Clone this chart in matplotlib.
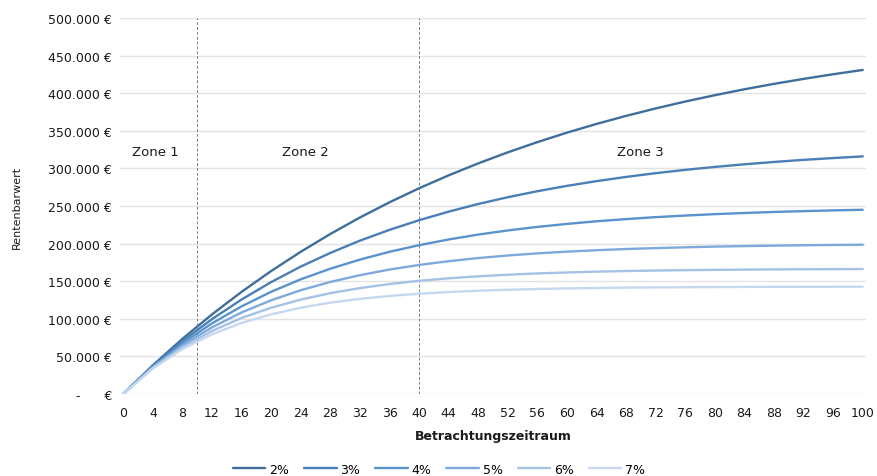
import matplotlib
matplotlib.use("Agg")
import matplotlib.pyplot as plt
from matplotlib.ticker import FuncFormatter, MultipleLocator

# Betrachtungszeitraum in Jahren
years = [0, 4, 8, 12, 16, 20, 24, 28, 32, 36, 40, 44, 48, 52, 56, 60,
         64, 68, 72, 76, 80, 84, 88, 92, 96, 100]

# Rentenbarwert in Tausend Euro je Zinssatz
pv_2 = [0, 38.1, 73.3, 105.8, 135.8, 163.5, 189.1, 212.8, 234.7, 254.9, 273.6,
        290.8, 306.7, 321.4, 335.0, 347.6, 359.2, 369.9, 379.8, 389.0, 397.4,
        405.3, 412.5, 419.1, 425.3, 431.0]
pv_3 = [0, 37.2, 70.2, 99.5, 125.6, 148.8, 169.4, 187.6, 203.9, 218.3, 231.1,
        242.5, 252.7, 261.7, 269.7, 276.8, 283.1, 288.7, 293.7, 298.1, 302.0,
        305.5, 308.6, 311.4, 313.8, 316.0]
pv_4 = [0, 36.3, 67.3, 93.9, 116.5, 135.9, 152.5, 166.6, 178.7, 189.1, 197.9,
        205.5, 212.0, 217.5, 222.2, 226.2, 229.7, 232.6, 235.2, 237.3, 239.2,
        240.7, 242.1, 243.2, 244.2, 245.0]
pv_5 = [0, 35.5, 64.6, 88.6, 108.4, 124.6, 138.0, 149.0, 158.0, 165.5, 171.6,
        176.6, 180.8, 184.2, 187.0, 189.3, 191.2, 192.8, 194.0, 195.1, 196.0,
        196.7, 197.3, 197.8, 198.2, 198.5]
pv_6 = [0, 34.7, 62.1, 83.8, 101.1, 114.7, 125.5, 134.1, 140.8, 146.2, 150.5,
        153.8, 156.5, 158.6, 160.3, 161.6, 162.7, 163.5, 164.2, 164.7, 165.1,
        165.4, 165.7, 165.9, 166.0, 166.2]
pv_7 = [0, 33.9, 59.7, 79.4, 94.5, 105.9, 114.7, 121.4, 126.5, 130.4, 133.3,
        135.6, 137.3, 138.6, 139.6, 140.4, 141.0, 141.4, 141.8, 142.0, 142.2,
        142.4, 142.5, 142.6, 142.6, 142.7]

series_labels = ["2%", "3%", "4%", "5%", "6%", "7%"]
series_values = [pv_2, pv_3, pv_4, pv_5, pv_6, pv_7]
colors = ["#3F6E9A", "#4A7EB6", "#5A93CC", "#7FA9DB", "#A5C2E6", "#C6D8EF"]

zone_bounds = [10, 40]
zone_labels = ["Zone 1", "Zone 2", "Zone 3"]
zone_label_x = [4.3, 24.6, 69.9]
zone_label_y = 323000

plt.rcParams["font.family"] = ["DejaVu Sans"]

fig = plt.figure(figsize=(8.78, 4.77), dpi=100)
ax = fig.add_axes([0.137, 0.172, 0.849, 0.788])

for label, vals, c in zip(series_labels, series_values, colors):
    ax.plot(years, [v * 1000 for v in vals], color=c, lw=1.7, label=label,
            solid_capstyle="round", zorder=3)

for xb in zone_bounds:
    ax.axvline(xb, color="#7F7F7F", lw=0.7, ls=(0, (3, 2)), zorder=2)

for txt, xz in zip(zone_labels, zone_label_x):
    ax.text(xz, zone_label_y, txt, ha="center", va="center", fontsize=9.5,
            color="#1A1A1A")

ax.set_xlim(-0.4, 100.4)
ax.set_ylim(0, 500000)
ax.xaxis.set_major_locator(MultipleLocator(4))
ax.yaxis.set_major_locator(MultipleLocator(50000))


def euro(v, pos):
    if v == 0:
        return "-      €"
    return f"{int(v):,} €".replace(",", ".")


ax.yaxis.set_major_formatter(FuncFormatter(euro))
ax.grid(axis="y", color="#E3E3E3", lw=1.0, zorder=0)
ax.set_axisbelow(True)
for s in ax.spines.values():
    s.set_visible(False)
ax.tick_params(axis="both", length=0, labelsize=9, colors="#1A1A1A")
ax.tick_params(axis="y", pad=6)
ax.tick_params(axis="x", pad=9)

ax.set_xlabel("Betrachtungszeitraum", fontsize=9, fontweight="bold",
              color="#1A1A1A", labelpad=7)
ax.set_ylabel("Rentenbarwert", fontsize=8, color="#1A1A1A", labelpad=19)

fig.legend(loc="center", bbox_to_anchor=(0.5, 0.014), ncol=6, frameon=False,
           fontsize=9, handlelength=2.6, columnspacing=1.2, handletextpad=0.3)

fig.savefig("out.png", dpi=100, facecolor="white")
